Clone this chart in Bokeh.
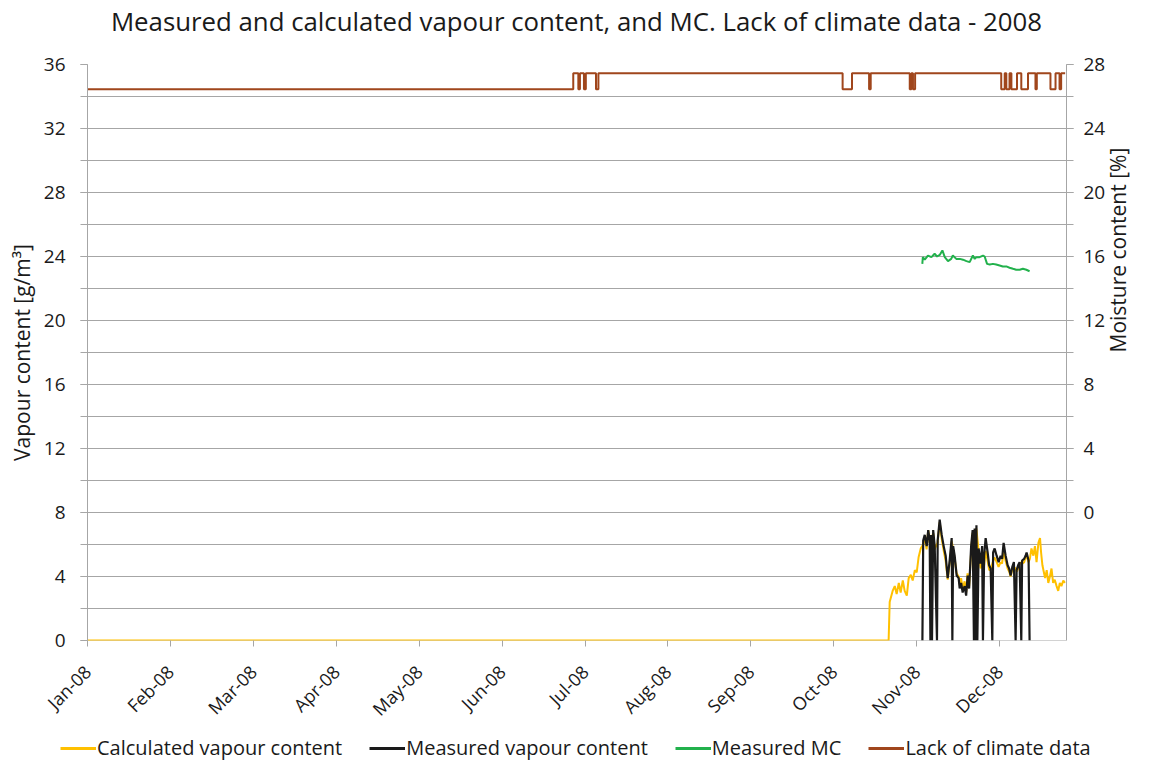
import math
from bokeh.plotting import figure
from bokeh.models import (Range1d, LinearAxis, FixedTicker, Legend, LegendItem, Span, Div)
from bokeh.embed import file_html
from bokeh.resources import INLINE

# ---------------- data (x = days since 1 Jan 2008) ----------------
month_tick_days = [0, 31, 62, 93, 124, 155, 186, 217, 248, 279, 310, 341]
month_labels = ["Jan-08", "Feb-08", "Mar-08", "Apr-08", "May-08", "Jun-08",
                "Jul-08", "Aug-08", "Sep-08", "Oct-08", "Nov-08", "Dec-08"]

calc_day = [0, 299.5, 299.9, 301.0, 301.8, 302.5, 303.3, 304.0, 304.8, 305.5, 306.3, 307.0,
            307.8, 308.5, 309.3, 310.0, 310.7, 311.5, 312.4, 313.0, 313.7, 314.3, 314.9, 315.4,
            316.2, 316.7, 317.8, 318.6, 319.3, 320.1, 320.8, 321.6, 322.3, 323.1, 323.6, 324.2,
            324.9, 325.7, 326.1, 326.6, 327.2, 327.9, 328.5, 329.0, 329.6, 330.4, 330.9, 331.7,
            332.3, 333.2, 333.9, 334.5, 335.2, 335.8, 336.5, 337.1, 337.6, 338.6, 339.1, 339.9,
            340.6, 341.4, 341.9, 342.5, 343.2, 344.0, 344.6, 345.1, 345.7, 346.3, 347.0, 347.4,
            347.9, 348.5, 349.1, 349.4, 350.2, 350.7, 351.1, 351.8, 352.3, 352.9, 353.6, 354.2,
            354.8, 355.5, 356.1, 356.5, 357.0, 357.5, 358.0, 358.6, 359.2, 359.8, 360.4, 361.0,
            361.6, 362.3, 362.9, 363.5, 364.1, 364.8, 365.4]
calc_vapour = [0, 0, 2.4, 3.1, 3.4, 2.9, 3.6, 3.0, 3.75, 3.1, 2.8, 3.9,
               4.1, 3.75, 4.4, 4.25, 5.2, 5.75, 6.0, 6.4, 5.7, 6.9, 6.1, 6.4,
               6.7, 5.7, 6.1, 7.4, 6.4, 5.6, 5.0, 3.8, 4.8, 6.2, 5.7, 5.1,
               4.2, 4.0, 3.5, 3.9, 3.2, 3.7, 3.0, 4.2, 3.4, 5.7, 6.7, 6.8,
               7.0, 5.5, 4.5, 5.0, 4.7, 5.6, 5.0, 4.4, 4.4, 5.0, 5.2, 4.9,
               4.6, 4.9, 4.8, 5.6, 5.0, 4.5, 4.3, 4.0, 4.4, 4.6, 4.5, 4.3,
               4.5, 4.8, 4.9, 4.8, 4.9, 5.2, 5.3, 4.9, 5.1, 5.75, 5.3, 5.9,
               4.9, 6.1, 6.4, 5.5, 4.7, 4.3, 3.9, 4.4, 3.6, 4.0, 4.5, 3.6,
               3.8, 3.4, 3.1, 3.6, 3.4, 3.75, 3.6]

meas_day = [312.13, 312.43, 313.0, 313.74, 314.3, 314.86, 315.12, 315.42, 315.72, 316.16,
            316.72, 317.58, 317.84, 318.59, 319.34, 320.08, 320.83, 321.58, 322.32, 323.07,
            323.33, 323.63, 324.19, 324.94, 325.68, 326.06, 326.62, 327.18, 327.92, 328.48,
            329.04, 329.6, 330.35, 330.91, 331.39, 331.66, 332.03, 332.33, 332.67, 333.15,
            333.9, 334.46, 334.76, 335.21, 335.77, 336.52, 337.08, 337.64, 338.27, 338.57,
            339.13, 339.88, 340.63, 341.37, 341.93, 342.49, 343.24, 343.99, 344.55, 345.11,
            345.74, 346.34, 346.98, 347.35, 347.91, 348.47, 349.1, 349.4, 350.15, 350.71,
            351.08, 351.83, 352.2]
meas_vapour = [0, 6.25, 6.6, 5.9, 6.9, 6.25, 0, 6.6, 0, 6.9,
               5.9, 0, 6.25, 7.56, 6.6, 5.9, 5.3, 3.9, 5.0, 6.4,
               0, 5.9, 5.3, 4.06, 3.9, 3.25, 3.6, 3.0, 3.4, 2.8,
               4.06, 3.25, 5.9, 6.9, 0, 7.0, 0, 7.2, 0, 5.75,
               4.8, 5.9, 0, 5.3, 6.4, 5.5, 4.7, 4.5, 0, 5.5,
               5.75, 5.3, 4.9, 5.3, 5.1, 6.1, 5.3, 4.7, 4.5, 4.06,
               4.6, 4.9, 0, 4.4, 4.7, 4.9, 0, 5.0, 5.1, 5.3,
               5.5, 5.0, 0]

mc_day = [312.1, 312.3, 313.0, 314.2, 315.5, 316.7, 317.6, 318.6, 319.6, 320.5,
          321.7, 322.9, 323.5, 324.8, 326.1, 327.3, 328.6, 329.8, 331.0, 331.7,
          332.3, 333.5, 334.8, 335.4, 336.3, 337.3, 338.5, 339.7, 341.0, 342.2,
          343.5, 344.7, 346.0, 347.2, 348.5, 349.7, 351.0, 352.2]
mc_percent = [15.54, 15.96, 15.8, 16.06, 15.96, 16.17, 16.0, 16.1, 16.38, 15.96,
              15.71, 15.85, 16.06, 15.85, 15.85, 15.8, 15.71, 15.65, 16.06, 15.85,
              15.96, 15.96, 16.06, 16.0, 15.54, 15.5, 15.54, 15.5, 15.44, 15.38,
              15.38, 15.3, 15.23, 15.17, 15.17, 15.23, 15.17, 15.08]

# step changes of the "lack of climate data" indicator (value holds until next day)
lack_day = [0, 181.6, 183.5, 184.1, 185.6, 186.3, 190.1, 191.0, 282.3, 285.8, 292.2, 292.8,
            307.4, 308.0, 308.6, 309.4, 341.6, 342.9, 343.5, 344.7, 345.4, 347.5, 349.1,
            351.6, 354.4, 354.9, 360.0, 361.9, 363.4, 364.0, 365.5]
lack_value = [34.45, 35.45, 34.45, 35.45, 34.45, 35.45, 34.45, 35.45, 34.45, 35.45, 34.45, 35.45,
              34.45, 35.45, 34.45, 35.45, 34.45, 35.45, 34.45, 35.45, 34.45, 35.45, 34.45,
              35.45, 34.45, 35.45, 34.45, 35.45, 34.45, 35.45, 35.45]

series_names = ["Calculated vapour content", "Measured vapour content",
                "Measured MC", "Lack of climate data"]

TITLE = "Measured and calculated vapour content, and MC. Lack of climate data - 2008"
FONT = "Open Sans"
TXT = "#1a1a1a"
GRID = "#a6a6a6"
AX = "#a6a6a6"

C_CALC = "#FFC000"
C_MEAS = "#1a1a1a"
C_MC = "#22B14C"
C_LACK = "#A0461C"

# ---------------- title strip ----------------
title_div = Div(text=TITLE, width=1150, height=42, margin=0,
                styles={"text-align": "center", "font-family": FONT, "font-size": "25.8px",
                        "line-height": "42px", "color": TXT, "white-space": "nowrap",
                        "padding-left": "3px"})

# ---------------- main figure ----------------
p = figure(width=1150, height=691, x_range=Range1d(0, 366), y_range=Range1d(0, 36),
           output_backend="svg", toolbar_location=None,
           min_border_left=87, min_border_right=84, min_border_top=22, min_border_bottom=93)
p.outline_line_color = None
p.background_fill_color = "white"

# x axis
xa = p.xaxis[0]
xa.ticker = FixedTicker(ticks=month_tick_days)
xa.major_label_overrides = {d: l for d, l in zip(month_tick_days, month_labels)}
xa.major_label_orientation = math.pi / 4
xa.major_label_text_font = FONT
xa.major_label_text_font_size = "18px"
xa.major_label_text_color = TXT
xa.major_label_standoff = 22
xa.major_tick_in = 0
xa.major_tick_out = 6
xa.minor_tick_out = 0
xa.axis_line_color = None
xa.major_tick_line_color = AX
p.add_layout(Span(location=0, dimension="width", line_color=AX, line_width=1, level="underlay"))

# left y axis
ya = p.yaxis[0]
ya.ticker = FixedTicker(ticks=list(range(0, 37, 4)), minor_ticks=list(range(0, 37, 2)))
ya.major_label_text_font = FONT
ya.major_label_text_font_size = "19px"
ya.major_label_text_color = TXT
ya.major_label_standoff = 15
ya.major_tick_in = 0
ya.major_tick_out = 7
ya.minor_tick_in = 0
ya.minor_tick_out = 7
ya.axis_line_color = AX
ya.major_tick_line_color = AX
ya.minor_tick_line_color = AX
ya.axis_label = "Vapour content [g/m\u00b3]"
ya.axis_label_text_font = FONT
ya.axis_label_text_font_size = "21px"
ya.axis_label_text_font_style = "normal"
ya.axis_label_text_color = TXT
ya.axis_label_standoff = 5

p.xgrid.visible = False
p.ygrid.grid_line_color = GRID
p.ygrid.minor_grid_line_color = GRID

# right y axis (moisture content)
p.extra_y_ranges = {"mc": Range1d(-8, 28)}
ra = LinearAxis(y_range_name="mc",
                ticker=FixedTicker(ticks=list(range(0, 29, 4)), minor_ticks=list(range(0, 29, 2))))
ra.major_label_text_font = FONT
ra.major_label_text_font_size = "19px"
ra.major_label_text_color = TXT
ra.major_label_standoff = 10
ra.major_tick_in = 0
ra.major_tick_out = 7
ra.minor_tick_in = 0
ra.minor_tick_out = 7
ra.axis_line_color = AX
ra.major_tick_line_color = AX
ra.minor_tick_line_color = AX
ra.axis_label = "Moisture content [%]"
ra.axis_label_text_font = FONT
ra.axis_label_text_font_size = "21px"
ra.axis_label_text_font_style = "normal"
ra.axis_label_text_color = TXT
ra.axis_label_text_align = "center"
ra.axis_label_text_baseline = "top"
ra.axis_label_standoff = 10
try:
    ra.axis_label_orientation = math.pi / 2
except Exception:
    pass
p.add_layout(ra, "right")

# ---------------- series ----------------
r_calc = p.line(calc_day, calc_vapour, line_color=C_CALC, line_width=2)
r_meas = p.line(meas_day, meas_vapour, line_color=C_MEAS, line_width=2.2)
r_mc = p.line(mc_day, mc_percent, line_color=C_MC, line_width=2, y_range_name="mc")

step_x, step_y = [], []
for i in range(len(lack_day) - 1):
    step_x += [lack_day[i], lack_day[i + 1]]
    step_y += [lack_value[i], lack_value[i]]
r_lack = p.line(step_x, step_y, line_color=C_LACK, line_width=2)

# ---------------- legend strip (separate root, same series, view range left empty) ----------------
lf = figure(width=1150, height=30, x_range=Range1d(-2, -1), y_range=Range1d(-2, -1),
            output_backend="svg", toolbar_location=None, x_axis_type=None, y_axis_type=None,
            min_border=0)
lf.outline_line_color = None
l_calc = lf.line(calc_day, calc_vapour, line_color=C_CALC, line_width=3)
l_meas = lf.line(meas_day, meas_vapour, line_color=C_MEAS, line_width=3)
l_mc = lf.line(mc_day, mc_percent, line_color=C_MC, line_width=3)
l_lack = lf.line(step_x, step_y, line_color=C_LACK, line_width=3)
items = [LegendItem(label=n, renderers=[r]) for n, r in
         zip(series_names, [l_calc, l_meas, l_mc, l_lack])]
legend = Legend(items=items, orientation="horizontal", location=(60, 2))
legend.label_text_font = FONT
legend.label_text_font_size = "20px"
legend.label_text_color = TXT
legend.glyph_width = 36
legend.glyph_height = 20
legend.label_standoff = 1
legend.spacing = 27
legend.padding = 0
legend.margin = 0
legend.border_line_color = None
legend.background_fill_alpha = 0
lf.add_layout(legend, "center")

open("out.html", "w").write(file_html([title_div, p, lf], INLINE))
